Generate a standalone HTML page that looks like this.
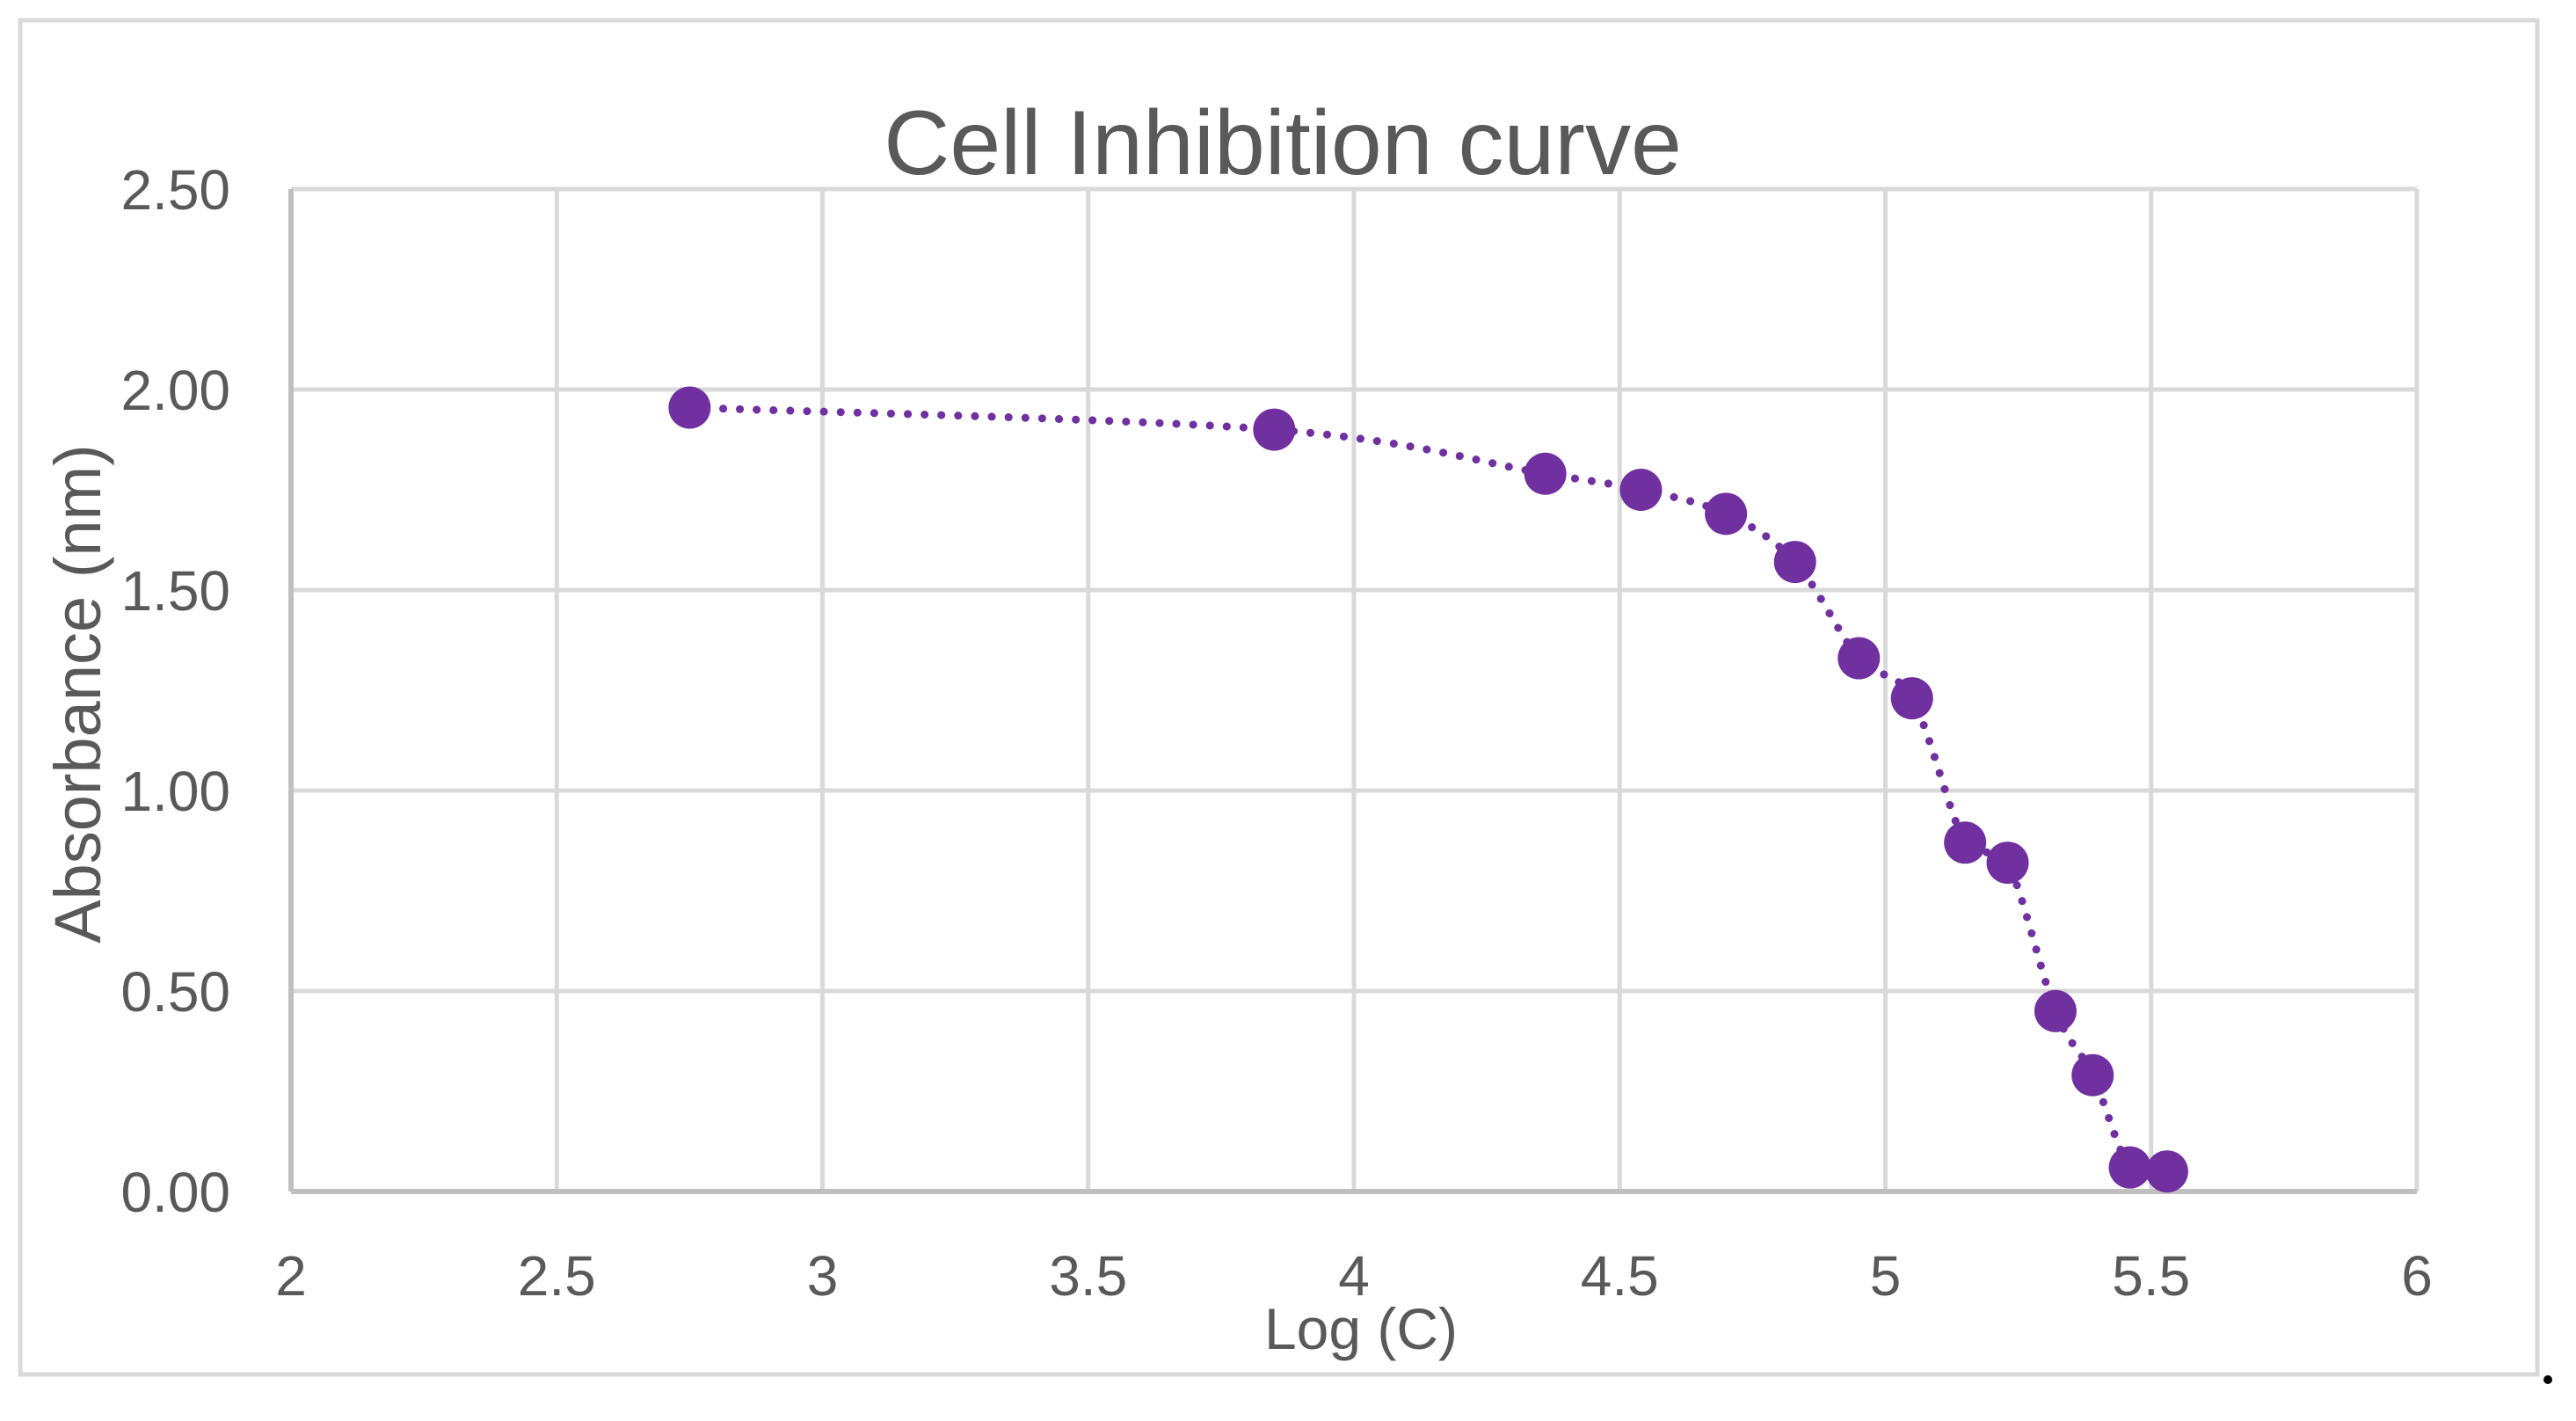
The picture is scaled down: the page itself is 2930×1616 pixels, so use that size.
<!DOCTYPE html>
<html><head><meta charset="utf-8"><style>
html,body{margin:0;padding:0;background:#fff;}
svg{display:block;}
text{font-family:"Liberation Sans",sans-serif;fill:#595959;}
</style></head><body>
<svg id="chart" width="2930" height="1616" viewBox="0 0 2930 1616">
<rect x="23" y="23" width="2863" height="1540" fill="#fff" stroke="#d9d9d9" stroke-width="5"/>
<circle cx="2898" cy="1569" r="5" fill="#000"/>
<text x="1459" y="198" font-size="104" text-anchor="middle">Cell Inhibition curve</text>
<g id="grid"></g>
<g id="axes"></g>
<g id="series"></g>
<text x="1548" y="1534" font-size="66" text-anchor="middle">Log (C)</text>
<text transform="translate(114,789) rotate(-90)" font-size="74" text-anchor="middle">Absorbance (nm)</text>
</svg>
<script>
const xTicks=[2,2.5,3,3.5,4,4.5,5,5.5,6];
const xTickLabels=["2","2.5","3","3.5","4","4.5","5","5.5","6"];
const yTicks=[0,0.5,1,1.5,2,2.5];
const yTickLabels=["0.00","0.50","1.00","1.50","2.00","2.50"];
const logC=[2.75,3.85,4.36,4.54,4.70,4.83,4.95,5.05,5.15,5.23,5.32,5.39,5.46,5.53];
const absorbance=[1.955,1.90,1.79,1.75,1.69,1.57,1.33,1.23,0.87,0.82,0.45,0.29,0.06,0.05];
const NS="http://www.w3.org/2000/svg";
const X0=331,X1=2749,Y0=1355,Y1=215;
function sx(v){return X0+(v-2)/(6-2)*(X1-X0);}
function sy(v){return Y0-(v-0)/(2.5-0)*(Y0-Y1);}
function mk(tag,attrs,parent){const e=document.createElementNS(NS,tag);for(const k in attrs)e.setAttribute(k,attrs[k]);parent.appendChild(e);return e;}
const grid=document.getElementById('grid'),axes=document.getElementById('axes'),series=document.getElementById('series');
xTicks.forEach((t,i)=>{
  if(i>0){const l=mk('line',{x1:sx(t),x2:sx(t),y1:Y1,y2:Y0,stroke:'#d9d9d9','stroke-width':5},grid);
  
  }
  const tx=mk('text',{x:sx(t),y:Y0+118,'font-size':64,'text-anchor':'middle'},axes);
  tx.textContent=xTickLabels[i];
  
  
});
yTicks.forEach((t,i)=>{
  if(i>0){const l=mk('line',{x1:X0,x2:X1,y1:sy(t),y2:sy(t),stroke:'#d9d9d9','stroke-width':5},grid);
  
  }
  const tx=mk('text',{x:262,y:sy(t)+23,'font-size':64,'text-anchor':'end'},axes);
  tx.textContent=yTickLabels[i];
  
  
});
const xa=mk('line',{x1:X0,x2:X1,y1:Y0,y2:Y0,stroke:'#bfbfbf','stroke-width':6},axes);


const ya=mk('line',{x1:X0,x2:X0,y1:Y1,y2:Y0,stroke:'#bfbfbf','stroke-width':6},axes);


const pts=logC.map((v,i)=>[sx(v),sy(absorbance[i])]);
let d='M'+pts[0][0]+','+pts[0][1];
for(let i=0;i<pts.length-1;i++){
  const p0=pts[Math.max(0,i-1)],p1=pts[i],p2=pts[i+1],p3=pts[Math.min(pts.length-1,i+2)];
  const c1=[p1[0]+(p2[0]-p0[0])/6,p1[1]+(p2[1]-p0[1])/6];
  const c2=[p2[0]-(p3[0]-p1[0])/6,p2[1]-(p3[1]-p1[1])/6];
  d+=' C'+c1[0]+','+c1[1]+' '+c2[0]+','+c2[1]+' '+p2[0]+','+p2[1];
}
const path=mk('path',{d:d,fill:'none',stroke:'#7030a0','stroke-width':9,'stroke-linecap':'round','stroke-dasharray':'0.1 19'},series);


pts.forEach(p=>{
  const c=mk('ellipse',{cx:p[0],cy:p[1],rx:24,ry:24,fill:'#7030a0'},series);
  
  
});
</script>
</body></html>
